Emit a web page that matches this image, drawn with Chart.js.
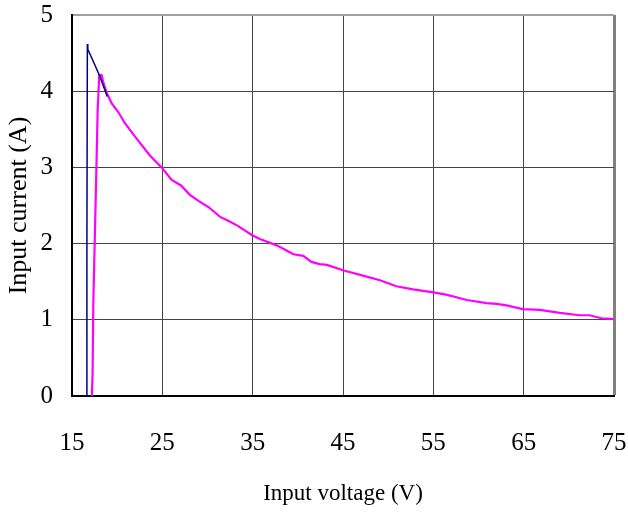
<!DOCTYPE html>
<html>
<head>
<meta charset="utf-8">
<script src="https://cdn.jsdelivr.net/npm/chart.js@4"></script>
<style>
  html, body { margin: 0; padding: 0; background: #fff; }
  #wrap { width: 628px; height: 514px; }
</style>
</head>
<body>
<div id="wrap"><canvas id="chart" width="628" height="514"></canvas></div>
<script>
// data
const navyVoltage = [16.6, 16.65, 16.7, 16.75, 17.4, 18.1, 18.9];
const navyCurrent = [0, 2.0, 4.62, 4.55, 4.38, 4.19, 3.93];

const magentaVoltage = [17.2, 17.28, 17.36, 17.55, 17.73, 17.84, 18.02, 18.28, 18.46, 18.84, 19.4, 20.1, 20.86,
    22.0, 23.6, 25.0, 26.0, 27.1, 28.05, 29.0, 30.1, 31.4, 32.3, 33.4, 34.95, 35.8, 37.6, 38.75, 39.5, 40.6,
    41.5, 42.4, 43.2, 45.0, 46.9, 49.1, 50.9, 52.75, 55.0, 56.4, 58.7, 60.9, 62.0, 63.1, 64.9, 66.8, 69.0,
    71.2, 72.3, 73.6, 75.0];
const magentaCurrent = [0, 0.3, 1.22, 2.2, 3.14, 3.75, 4.21, 4.21, 4.12, 3.98, 3.84, 3.73, 3.58,
    3.4, 3.16, 2.99, 2.84, 2.76, 2.64, 2.56, 2.48, 2.35, 2.30, 2.23, 2.11, 2.06, 1.98, 1.91, 1.86, 1.84,
    1.76, 1.73, 1.72, 1.65, 1.59, 1.52, 1.44, 1.40, 1.36, 1.33, 1.26, 1.22, 1.21, 1.19, 1.14, 1.13, 1.09,
    1.06, 1.06, 1.02, 1.01];

const xTicks = [15, 25, 35, 45, 55, 65, 75];
const yTicks = [0, 1, 2, 3, 4, 5];

const toPoints = (xs, ys) => xs.map((x, i) => ({ x: x, y: ys[i] }));

const fontFamily = "'Liberation Serif', 'Times New Roman', serif";

const ctx = document.getElementById('chart').getContext('2d');

const chart = new Chart(ctx, {
    type: 'scatter',
    data: {
        datasets: [
            {
                label: 'navy',
                data: toPoints(navyVoltage, navyCurrent),
                showLine: true,
                borderColor: '#000080',
                borderWidth: 1.5,
                pointRadius: 0,
                tension: 0
            },
            {
                label: 'magenta',
                data: toPoints(magentaVoltage, magentaCurrent),
                showLine: true,
                borderColor: '#ff00ff',
                borderWidth: 2.2,
                pointRadius: 0,
                tension: 0
            }
        ]
    },
    options: {
        responsive: false,
        animation: false,
        layout: { padding: { left: 0, right: 14, top: 15, bottom: 0 } },
        plugins: {
            legend: { display: false },
            tooltip: { enabled: false }
        },
        scales: {
            x: {
                type: 'linear',
                min: 15,
                max: 75,
                afterBuildTicks: (scale) => { scale.ticks = xTicks.map(v => ({ value: v })); },
                afterFit: (scale) => {
                    scale.height = 118;
                    scale.paddingLeft = 0;
                    scale.paddingRight = 0;
                },
                grid: {
                    color: (c) => c.tick && c.tick.value === 75 ? '#808080' : '#444',
                    lineWidth: (c) => c.tick && c.tick.value === 75 ? 3 : 1,
                    drawTicks: false
                },
                border: { color: '#000', width: 2 },
                ticks: {
                    color: '#000',
                    padding: 32,
                    maxRotation: 0,
                    font: { family: fontFamily, size: 25 }
                },
                title: {
                    display: true,
                    text: 'Input voltage (V)',
                    color: '#000',
                    font: { family: fontFamily, size: 23 },
                    padding: { top: 0, bottom: 6 }
                }
            },
            y: {
                type: 'linear',
                min: 0,
                max: 5,
                afterBuildTicks: (scale) => { scale.ticks = yTicks.map(v => ({ value: v })); },
                afterFit: (scale) => {
                    scale.width = 72;
                    scale.paddingTop = 0;
                    scale.paddingBottom = 0;
                },
                grid: {
                    color: (c) => c.tick && c.tick.value === 5 ? '#a0a0a0' : '#444',
                    lineWidth: (c) => c.tick && c.tick.value === 5 ? 2 : 1,
                    drawTicks: false
                },
                border: { color: '#000', width: 2 },
                ticks: {
                    color: '#000',
                    padding: 19,
                    font: { family: fontFamily, size: 25 }
                },
                title: {
                    display: true,
                    text: 'Input current (A)',
                    color: '#000',
                    font: { family: fontFamily, size: 26 },
                    padding: { top: 4, bottom: 0 }
                }
            }
        }
    }
});
</script>
</body>
</html>
